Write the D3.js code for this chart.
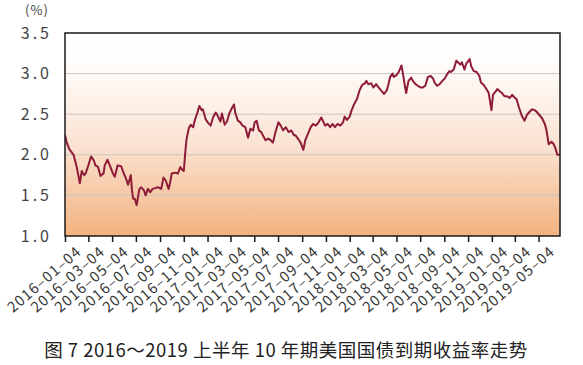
<!DOCTYPE html>
<html><head><meta charset="utf-8">
<script src="https://cdn.jsdelivr.net/npm/d3@7"></script>
<style>
html,body{margin:0;padding:0;background:#fff;}
svg{display:block;}
text{font-family:"Noto Sans CJK SC","Noto Sans",sans-serif;}
</style></head>
<body>
<svg id="chart" width="583" height="365"></svg>
<script>
const dates = ["2016-01-04","2016-01-08","2016-01-15","2016-01-26","2016-02-04","2016-02-11","2016-02-16","2016-02-22","2016-02-26","2016-03-04","2016-03-11","2016-03-18","2016-03-22","2016-03-29","2016-04-04","2016-04-12","2016-04-15","2016-04-22","2016-04-28","2016-05-06","2016-05-11","2016-05-18","2016-05-27","2016-06-03","2016-06-10","2016-06-14","2016-06-21","2016-06-24","2016-06-27","2016-07-01","2016-07-06","2016-07-13","2016-07-18","2016-07-25","2016-07-29","2016-08-04","2016-08-10","2016-08-16","2016-08-23","2016-08-31","2016-09-07","2016-09-13","2016-09-19","2016-09-26","2016-09-30","2016-10-04","2016-10-13","2016-10-20","2016-10-26","2016-11-01","2016-11-04","2016-11-08","2016-11-11","2016-11-17","2016-11-22","2016-11-28","2016-12-02","2016-12-09","2016-12-14","2016-12-20","2016-12-23","2016-12-30",
"2017-01-06","2017-01-12","2017-01-18","2017-01-25","2017-01-30","2017-02-06","2017-02-10","2017-02-17","2017-02-23","2017-03-01","2017-03-08","2017-03-13","2017-03-16","2017-03-23","2017-03-29","2017-04-04","2017-04-11","2017-04-18","2017-04-24","2017-05-01","2017-05-05","2017-05-10","2017-05-16","2017-05-22","2017-05-26","2017-06-02","2017-06-09","2017-06-15","2017-06-21","2017-06-27","2017-07-05","2017-07-11","2017-07-17","2017-07-24","2017-07-31","2017-08-07","2017-08-14","2017-08-18","2017-08-24","2017-08-31","2017-09-07","2017-09-12","2017-09-19","2017-09-26","2017-10-02","2017-10-09","2017-10-16","2017-10-23","2017-10-27","2017-11-02","2017-11-08","2017-11-15","2017-11-21","2017-11-27","2017-12-04","2017-12-11","2017-12-18","2017-12-22","2017-12-28",
"2018-01-04","2018-01-09","2018-01-16","2018-01-23","2018-01-29","2018-02-05","2018-02-12","2018-02-16","2018-02-21","2018-02-28","2018-03-06","2018-03-13","2018-03-19","2018-03-26","2018-04-02","2018-04-09","2018-04-13","2018-04-18","2018-04-24","2018-04-27","2018-05-04","2018-05-10","2018-05-17","2018-05-21","2018-05-24","2018-05-29","2018-06-04","2018-06-11","2018-06-15","2018-06-22","2018-06-28","2018-07-05","2018-07-11","2018-07-17","2018-07-24","2018-07-31","2018-08-06","2018-08-10","2018-08-16","2018-08-23","2018-08-30","2018-09-05","2018-09-11","2018-09-17","2018-09-21","2018-09-28","2018-10-05","2018-10-09","2018-10-15","2018-10-19","2018-10-26","2018-10-30","2018-11-08","2018-11-12","2018-11-19","2018-11-26","2018-12-03","2018-12-07","2018-12-14","2018-12-21","2018-12-27",
"2019-01-03","2019-01-07","2019-01-14","2019-01-18","2019-01-25","2019-01-30","2019-02-06","2019-02-12","2019-02-19","2019-02-25","2019-03-04","2019-03-08","2019-03-15","2019-03-22","2019-03-29","2019-04-04","2019-04-11","2019-04-17","2019-04-24","2019-04-29","2019-05-06","2019-05-13","2019-05-20","2019-05-24","2019-05-30","2019-06-06","2019-06-12","2019-06-17","2019-06-21","2019-06-28"];

const yields = [2.24,2.16,2.07,2.00,1.83,1.65,1.80,1.75,1.77,1.87,1.98,1.93,1.87,1.85,1.74,1.77,1.87,1.94,1.87,1.77,1.73,1.87,1.86,1.77,1.69,1.63,1.75,1.56,1.46,1.46,1.38,1.58,1.60,1.56,1.50,1.58,1.54,1.58,1.59,1.60,1.58,1.72,1.68,1.58,1.66,1.77,1.78,1.77,1.85,1.81,1.80,2.04,2.19,2.33,2.37,2.34,2.42,2.52,2.60,2.55,2.56,2.44,
2.39,2.36,2.46,2.52,2.48,2.41,2.51,2.37,2.41,2.51,2.58,2.62,2.52,2.42,2.40,2.36,2.34,2.21,2.32,2.30,2.40,2.42,2.30,2.28,2.24,2.18,2.20,2.18,2.15,2.27,2.40,2.36,2.30,2.34,2.28,2.30,2.24,2.24,2.20,2.15,2.06,2.18,2.26,2.34,2.38,2.36,2.40,2.46,2.42,2.36,2.38,2.34,2.38,2.34,2.38,2.36,2.40,2.47,2.43,
2.47,2.55,2.63,2.69,2.79,2.86,2.88,2.91,2.87,2.88,2.83,2.87,2.83,2.79,2.75,2.79,2.86,2.96,3.00,2.96,2.98,3.02,3.10,2.99,2.90,2.76,2.91,2.95,2.91,2.87,2.85,2.83,2.83,2.85,2.96,2.97,2.94,2.89,2.85,2.87,2.91,2.94,2.99,3.03,3.02,3.05,3.16,3.14,3.11,3.14,3.05,3.12,3.18,3.09,3.03,3.02,2.97,2.89,2.86,2.81,2.76,
2.55,2.74,2.78,2.81,2.78,2.76,2.72,2.72,2.70,2.74,2.70,2.69,2.58,2.48,2.42,2.49,2.53,2.56,2.55,2.53,2.49,2.45,2.38,2.31,2.13,2.16,2.13,2.07,2.00,2.00];

const xTickLabels = ["2016-01-04","2016-03-04","2016-05-04","2016-07-04","2016-09-04","2016-11-04","2017-01-04","2017-03-04","2017-05-04","2017-07-04","2017-09-04","2017-11-04","2018-01-04","2018-03-04","2018-05-04","2018-07-04","2018-09-04","2018-11-04","2019-01-04","2019-03-04","2019-05-04"];
const yTicks = [1.0,1.5,2.0,2.5,3.0,3.5];
const xDomain = ["2016-01-04","2019-06-28"];
const unitLabel = "(%)";
const title = "图 7 2016～2019 上半年 10 年期美国国债到期收益率走势";

const parse = d3.timeParse("%Y-%m-%d");
const data = dates.map((d,i)=>({date:parse(d), v:yields[i]}));

const L=65, R=560, T=33, B=236;
const svg = d3.select("#chart");
const x = d3.scaleTime().domain(xDomain.map(parse)).range([L,R]);
const y = d3.scaleLinear().domain([1.0,3.5]).range([B,T]);

const defs = svg.append("defs");
const grad = defs.append("linearGradient").attr("id","bg").attr("x1",0).attr("y1",0).attr("x2",0).attr("y2",1);
grad.append("stop").attr("offset","0%").attr("stop-color","#ffffff");
grad.append("stop").attr("offset","15%").attr("stop-color","#fffdfb");
grad.append("stop").attr("offset","55%").attr("stop-color","#fbe3d2");
grad.append("stop").attr("offset","100%").attr("stop-color","#f2b27f");
defs.append("clipPath").attr("id","clip").append("rect").attr("x",L).attr("y",T).attr("width",R-L).attr("height",B-T);

svg.append("rect").attr("x",L).attr("y",T).attr("width",R-L).attr("height",B-T).attr("fill","url(#bg)");

// gridlines
svg.append("g").selectAll("line").data(yTicks.filter(t=>t>1.0 && t<3.5)).join("line")
  .attr("x1",L).attr("x2",R).attr("y1",d=>y(d)).attr("y2",d=>y(d))
  .attr("stroke","#c9c5c3").attr("stroke-width",1);

// line
svg.append("path").datum(data).attr("clip-path","url(#clip)")
  .attr("fill","none").attr("stroke","#8e1b38").attr("stroke-width",2).attr("stroke-linejoin","round")
  .attr("d", d3.line().x(d=>x(d.date)).y(d=>y(d.v)));

// frame
svg.append("rect").attr("x",L).attr("y",T).attr("width",R-L).attr("height",B-T)
  .attr("fill","none").attr("stroke","#1a1a1a").attr("stroke-width",1.5);

// y axis labels
const yAxis = d3.axisLeft(y).tickValues(yTicks).tickFormat(d3.format(".1f")).tickSize(0).tickPadding(13);
const gy = svg.append("g").attr("transform",`translate(${L},0)`).call(yAxis);
gy.select(".domain").remove();
gy.selectAll("text").attr("font-size",16).attr("fill","#444").attr("letter-spacing","3px");

svg.append("text").attr("x",37).attr("y",15).attr("text-anchor","middle")
  .attr("font-size",13).attr("fill","#444").attr("letter-spacing","1px").text(unitLabel);

// x axis
const xAxis = d3.axisBottom(x).tickValues(xTickLabels.map(parse)).tickSize(6).tickFormat((d,i)=>xTickLabels[i]);
const gx = svg.append("g").attr("transform",`translate(0,${B})`).call(xAxis);
gx.select(".domain").remove();
gx.selectAll("line").attr("stroke","#1a1a1a").attr("stroke-width",1.5);
gx.selectAll("text")
  .attr("font-size",14.5).attr("fill","#333").attr("text-anchor","end")
  .attr("letter-spacing","1.2px")
  .attr("y",0).attr("dy",0)
  .attr("transform","translate(17,17) rotate(-41)")
  .text((d,i)=>xTickLabels[i].replace(/-/g,"–"));

// title
svg.append("text").attr("x",286).attr("y",357).attr("text-anchor","middle")
  .attr("font-size",18.5).attr("letter-spacing","0.5px").attr("fill","#222").text(title);
</script>
</body></html>
